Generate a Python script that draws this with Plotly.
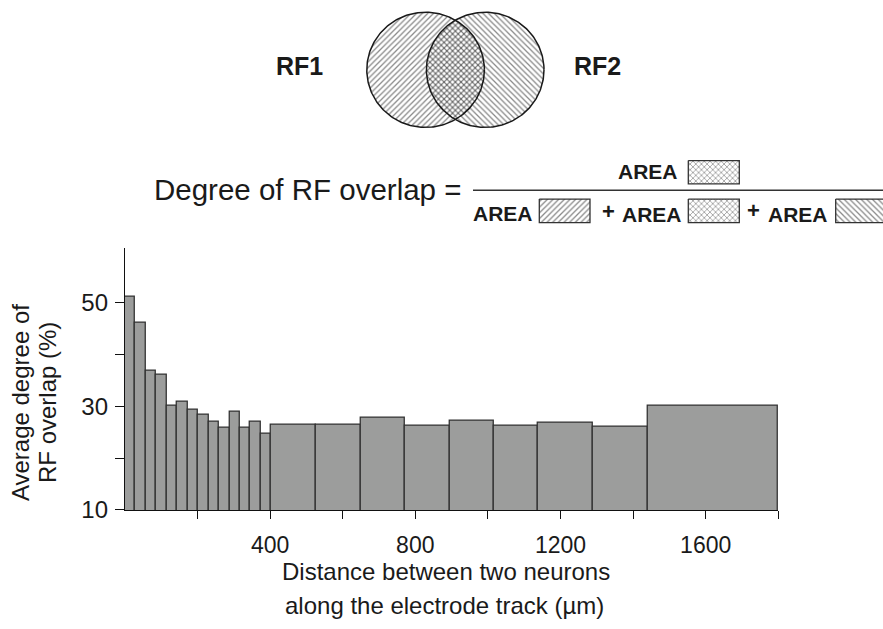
import numpy as np
import plotly.graph_objects as go

# ---------------- data ----------------
bin_edges = [0, 28.8, 57.6, 86.4, 115.2, 144, 172.8, 201.6, 230.4, 259.2, 288, 316.8, 345.6, 374.4, 403,
             527, 649, 771, 894, 1017, 1139, 1290, 1442, 1800]
overlap_pct = [51.1, 46.0, 36.8, 36.0, 30.0, 30.9, 29.2, 28.3, 27.0, 25.9, 28.9, 25.9, 26.9, 24.7,
               26.4, 26.4, 27.8, 26.3, 27.1, 26.3, 26.8, 26.0, 30.1]
x_tick_vals = [400, 800, 1200, 1600]
x_tick_text = ["400", "800", "1200", "1600"]
x_minor_vals = [200, 600, 1000, 1400, 1800]
y_tick_vals = [10, 30, 50]
y_tick_text = ["10", "30", "50"]
y_minor_vals = [20, 40]

W, H = 883, 629
FONT = "Liberation Sans, Arial, Helvetica, sans-serif"
INK = "#1a1a1a"

edges = np.array(bin_edges)
centers = (edges[:-1] + edges[1:]) / 2
widths = np.diff(edges)

fig = go.Figure()

fig.add_trace(go.Bar(
    x=centers, y=overlap_pct, width=widths,
    marker=dict(color="#9c9d9c", line=dict(color="#333333", width=1.3)),
    xaxis="x", yaxis="y", showlegend=False, hoverinfo="skip"))

# ---------------- Venn diagram (pixel-space overlay axes) ----------------
R = 58.8
c1 = (425.6, 71.3)
c2 = (485.2, 71.3)
t = np.linspace(0, 2 * np.pi, 241)
PAT = dict(size=4, solidity=0.32, fgcolor="#111111", bgcolor="rgba(255,255,255,0)")

def circle(c, shape):
    return go.Scatter(
        x=c[0] + R * np.cos(t), y=c[1] + R * np.sin(t),
        mode="lines", fill="toself", fillcolor="rgba(255,255,255,0)",
        fillpattern=dict(shape=shape, **PAT),
        line=dict(color="#1a1a1a", width=1.5),
        xaxis="x2", yaxis="y2", showlegend=False, hoverinfo="skip")

fig.add_trace(circle(c1, "/"))
fig.add_trace(circle(c2, "\\"))

def box(x0, x1, y0, y1, shape):
    return go.Scatter(
        x=[x0, x1, x1, x0, x0], y=[y0, y0, y1, y1, y0],
        mode="lines", fill="toself", fillcolor="rgba(255,255,255,0)",
        fillpattern=dict(shape=shape, **PAT),
        line=dict(color="#333333", width=1.3),
        xaxis="x2", yaxis="y2", showlegend=False, hoverinfo="skip")

fig.add_trace(box(688.3, 739.3, 164.0, 187.7, "x"))
fig.add_trace(box(539.3, 590.0, 203.3, 227.3, "/"))
fig.add_trace(box(688.3, 739.3, 203.3, 227.3, "x"))
fig.add_trace(box(835.7, 890.0, 203.3, 227.3, "\\"))

fig.add_shape(type="line", xref="x2", yref="y2", x0=473, x1=883, y0=194.3, y1=194.3,
              line=dict(color="#333333", width=1.5))

ann = []
def txt(x, y, s, size, bold=False, xanchor="center", angle=0):
    ann.append(dict(x=x, y=y, xref="x2", yref="y2", text=("<b>%s</b>" % s) if bold else s,
                    showarrow=False, xanchor=xanchor, yanchor="middle", textangle=angle,
                    font=dict(family=FONT, size=size, color=INK)))

txt(299, 67.3, "RF1", 25, True)
txt(597, 67.3, "RF2", 25, True)
txt(463, 193.5, "Degree of RF overlap =", 29.5, False, "right")
txt(648, 175.0, "AREA", 21, True)
txt(503.2, 217.5, "AREA", 21, True)
txt(608, 215.5, "+", 22, True)
txt(651.5, 219.5, "AREA", 21, True)
txt(753.5, 214.5, "+", 22, True)
txt(797.9, 219.5, "AREA", 21, True)
# axis titles
txt(20.6, 411, "Average degree of", 24, False, "center", -90)
txt(47.5, 411, "RF overlap (%)", 24, False, "center", -90)
txt(446, 583.5, "Distance between two neurons", 24)
txt(444, 618.0, "along the electrode track (µm)", 24)

fig.update_layout(
    width=W, height=H, margin=dict(l=0, r=0, t=0, b=0),
    paper_bgcolor="white", plot_bgcolor="rgba(0,0,0,0)",
    bargap=0, annotations=ann,
    xaxis=dict(domain=[124.9 / W, 778.3 / W], range=[0, 1800], showgrid=False, zeroline=False,
               showline=True, linecolor="#111111", linewidth=1.2,
               tickmode="array", tickvals=x_tick_vals, ticktext=x_tick_text,
               ticks="outside", ticklen=8, tickwidth=1.2, tickcolor="#111111",
               ticklabelstandoff=6,
               minor=dict(tickvals=x_minor_vals, ticks="outside", ticklen=8, tickwidth=1.2,
                          tickcolor="#111111", showgrid=False),
               tickfont=dict(family=FONT, size=23, color=INK), fixedrange=True),
    yaxis=dict(domain=[1 - 520.7 / H, 1 - 253 / H], range=[10, 60.5], showgrid=False, zeroline=False,
               showline=True, linecolor="#111111", linewidth=1.2,
               tickmode="array", tickvals=y_tick_vals, ticktext=y_tick_text,
               ticks="outside", ticklen=9, tickwidth=1.2, tickcolor="#111111",
               ticklabelstandoff=2,
               minor=dict(tickvals=y_minor_vals, ticks="outside", ticklen=9, tickwidth=1.2,
                          tickcolor="#111111", showgrid=False),
               tickfont=dict(family=FONT, size=24, color=INK), fixedrange=True),
    xaxis2=dict(domain=[0, 1], range=[0, W], visible=False, fixedrange=True),
    yaxis2=dict(domain=[0, 1], range=[H, 0], visible=False, fixedrange=True),
)

fig.write_html("out.html", config=dict(displayModeBar=False))
